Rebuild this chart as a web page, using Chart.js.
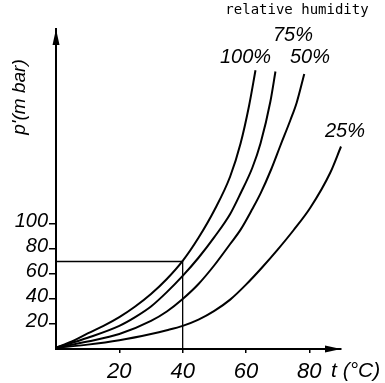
<!DOCTYPE html>
<html>
<head>
<meta charset="utf-8">
<script src="https://cdn.jsdelivr.net/npm/chart.js@4"></script>
<style>
html,body{margin:0;padding:0;background:#fff;}
#wrap{width:385px;height:383px;position:relative;}
</style>
</head>
<body>
<div id="wrap"><canvas id="c"></canvas></div>
<script>
// ---- data ----
const xTicks = [20, 40, 60, 80];
const yTicks = [20, 40, 60, 80, 100];

const t100 = [0, 5, 10, 15, 20, 25, 30, 35, 40, 45, 50, 55, 58.3, 61, 63];
const p100 = [1, 6, 12.5, 18.5, 25.5, 34, 44, 56, 70.5, 89, 111, 138, 164.6, 195, 223];

const t75 = [0, 10, 20, 25, 30, 35, 40, 45, 50, 55, 58.3, 62, 64.6, 67.7, 69.3];
const p75 = [1, 9, 18.5, 25.5, 34, 45.5, 58.5, 73, 89.5, 108, 124.6, 145, 164.6, 198, 222];

const t50 = [0, 10, 20, 30, 35, 40, 45, 50, 55, 58.3, 62, 64.6, 68, 70.9, 74, 76, 78.4];
const p50 = [1, 6, 12, 22.5, 30, 40, 52, 67, 84, 95.5, 112, 124.5, 144, 163, 183, 197, 220];

const t25 = [0, 10, 20, 30, 35, 40, 45, 50, 55, 60, 65, 70, 75, 80.3, 86.6, 90];
const p25 = [1, 3.5, 7, 12, 15, 18.5, 23.5, 30.5, 39.5, 51.5, 65, 79.5, 95, 113, 141, 162];

const guideT = [0, 40, 40];
const guideP = [70, 70, 0];

const humidityLabels = ['100%', '75%', '50%', '25%'];

function pts(xs, ys){ return xs.map((x,i)=>({x:x, y:ys[i]})); }

const curveStyle = {showLine:true, pointRadius:0, borderColor:'#000', borderWidth:2, cubicInterpolationMode:'monotone', fill:false};

const textPlugin = {
  id:'texts',
  afterDraw(chart){
    const ctx = chart.ctx;
    const a = chart.chartArea;
    ctx.save();
    ctx.fillStyle = '#000';
    ctx.strokeStyle = '#000';
    // arrow heads
    ctx.beginPath();
    ctx.moveTo(a.left, a.top);
    ctx.lineTo(a.left-3.5, a.top+16);
    ctx.lineTo(a.left+3.5, a.top+16);
    ctx.closePath(); ctx.fill();
    ctx.beginPath();
    ctx.moveTo(a.right, a.bottom);
    ctx.lineTo(a.right-16, a.bottom-3.5);
    ctx.lineTo(a.right-16, a.bottom+3.5);
    ctx.closePath(); ctx.fill();
    // header
    ctx.font = '14px "DejaVu Sans Mono"';
    ctx.textAlign = 'center';
    ctx.textBaseline = 'alphabetic';
    ctx.fillText('relative humidity', 297, 14);
    // curve labels
    ctx.font = 'italic 20px "Liberation Sans"';
    ctx.textAlign = 'left';
    ctx.fillText(humidityLabels[0], 220, 63);
    ctx.fillText(humidityLabels[1], 273, 41);
    ctx.fillText(humidityLabels[2], 290, 63);
    ctx.fillText(humidityLabels[3], 325, 137);
    // x axis unit
    ctx.font = 'italic 21px "Liberation Sans"';
    ctx.fillText('t (°C)', 331, 377);
    // y axis title
    ctx.translate(25, 97);
    ctx.rotate(-Math.PI/2);
    ctx.font = 'italic 19px "Liberation Sans"';
    ctx.textAlign = 'center';
    ctx.fillText("p'(m bar)", 0, 0);
    ctx.restore();
  }
};

new Chart(document.getElementById('c'), {
  type:'scatter',
  data:{
    datasets:[
      Object.assign({label:humidityLabels[0], data:pts(t100,p100)}, curveStyle),
      Object.assign({label:humidityLabels[1], data:pts(t75,p75)}, curveStyle),
      Object.assign({label:humidityLabels[2], data:pts(t50,p50)}, curveStyle),
      Object.assign({label:humidityLabels[3], data:pts(t25,p25)}, curveStyle, {clip:false}),
      {label:'guide', data:pts(guideT,guideP), showLine:true, pointRadius:0, borderColor:'#000', borderWidth:1.3, tension:0}
    ]
  },
  options:{
    responsive:true, maintainAspectRatio:false, animation:false,
    layout:{padding:{top:29, right:44, left:0, bottom:0}},
    plugins:{legend:{display:false}, tooltip:{enabled:false}},
    scales:{
      x:{
        type:'linear', min:0, max:90,
        afterBuildTicks(s){ s.ticks = xTicks.map(v=>({value:v})); },
        afterFit(s){ s.height = 34; },
        grid:{display:true, drawOnChartArea:false, drawTicks:true, tickLength:4, color:'#000', lineWidth:1.5},
        border:{display:true, color:'#000', width:2},
        ticks:{color:'#000', font:{family:'Liberation Sans', size:22, style:'italic'}, padding:6, maxRotation:0, autoSkip:false}
      },
      y:{
        type:'linear', min:0, max:256,
        afterBuildTicks(s){ s.ticks = yTicks.map(v=>({value:v})); },
        afterFit(s){ s.width = 56; },
        grid:{display:true, drawOnChartArea:false, drawTicks:true, tickLength:7, color:'#000', lineWidth:1.5},
        border:{display:true, color:'#000', width:2},
        ticks:{color:'#000', font:{family:'Liberation Sans', size:20, style:'italic'}, padding:1, labelOffset:-3, autoSkip:false}
      }
    }
  },
  plugins:[textPlugin]
});
</script>
</body>
</html>
